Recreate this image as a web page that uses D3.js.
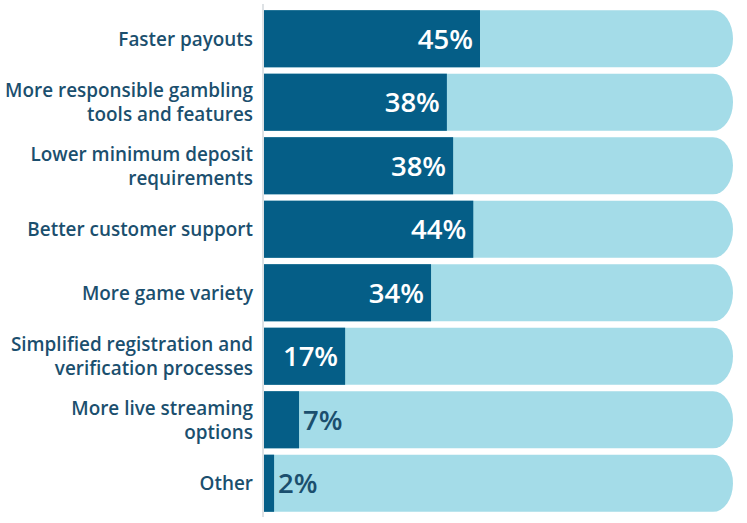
<!DOCTYPE html>
<html>
<head>
<meta charset="utf-8">
<script src="https://cdn.jsdelivr.net/npm/d3@7/dist/d3.min.js"></script>
<style>
  body { margin: 0; background: #fff; }
  svg { display: block; }
</style>
</head>
<body>
<svg id="chart" width="747" height="523"></svg>
<script>
const categories = [
  ["Faster payouts"],
  ["More responsible gambling", "tools and features"],
  ["Lower minimum deposit", "requirements"],
  ["Better customer support"],
  ["More game variety"],
  ["Simplified registration and", "verification processes"],
  ["More live streaming", "options"],
  ["Other"]
];
const values = [45, 38.1, 39.4, 43.6, 34.8, 16.9, 7.3, 2.1];
const valueLabels = ["45%", "38%", "38%", "44%", "34%", "17%", "7%", "2%"];

const plotLeft = 264, plotTop = 10, plotBottom = 512;
const trackEnd = 733;
const svg = d3.select("#chart");

const x = d3.scaleLinear().domain([0, 100]).range([plotLeft, plotLeft + 480]);
const y = d3.scaleBand().domain(d3.range(categories.length)).range([plotTop - 3, plotBottom + 3]).paddingInner(0.1).paddingOuter(0.05);

const bh = y.bandwidth();

// track
const capRx = 20;
svg.append("g").selectAll("path").data(values).join("path")
  .attr("d", (d, i) => {
    const y0 = y(i), y1 = y0 + bh, xe = trackEnd - capRx;
    return `M${plotLeft},${y0}H${xe}A${capRx},${bh/2} 0 0 1 ${xe},${y1}H${plotLeft}Z`;
  })
  .attr("fill", "#a4dce8");

// bars
svg.append("g").selectAll("rect").data(values).join("rect")
  .attr("x", x(0))
  .attr("y", (d, i) => y(i))
  .attr("width", d => x(d) - x(0))
  .attr("height", bh)
  .attr("fill", "#055e87");

// axis line
svg.append("line").attr("x1", plotLeft - 1).attr("x2", plotLeft - 1).attr("y1", 4).attr("y2", 517)
  .attr("stroke", "#d3d8dc").attr("stroke-width", 1.5);

// value labels
const inside = d => (x(d) - x(0) > 70);
svg.append("g").selectAll("text").data(values).join("text")
  .attr("x", d => inside(d) ? x(d) - 7 : x(d) + 4)
  .attr("y", (d, i) => y(i) + bh / 2)
  .attr("dy", "0.36em")
  .attr("text-anchor", d => inside(d) ? "end" : "start")
  .attr("fill", d => inside(d) ? "#ffffff" : "#1b4f6e")
  .style("font-family", "'Open Sans', sans-serif")
  .style("font-weight", 600)
  .style("font-size", "27.5px")
  .text((d, i) => valueLabels[i]);

// category labels
const lab = svg.append("g").selectAll("text").data(categories).join("text")
  .attr("text-anchor", "end")
  .attr("fill", "#1b4f6e")
  .style("font-family", "'Open Sans', sans-serif")
  .style("font-weight", 600)
  .style("font-size", "18.9px");
lab.each(function(lines, i) {
  const t = d3.select(this);
  const cy = y(i) + bh / 2;
  const lh = 24;
  lines.forEach((ln, j) => {
    t.append("tspan").attr("x", 253)
      .attr("y", cy + (j - (lines.length - 1) / 2) * lh)
      .attr("dy", "0.36em")
      .text(ln);
  });
});
</script>
</body>
</html>
